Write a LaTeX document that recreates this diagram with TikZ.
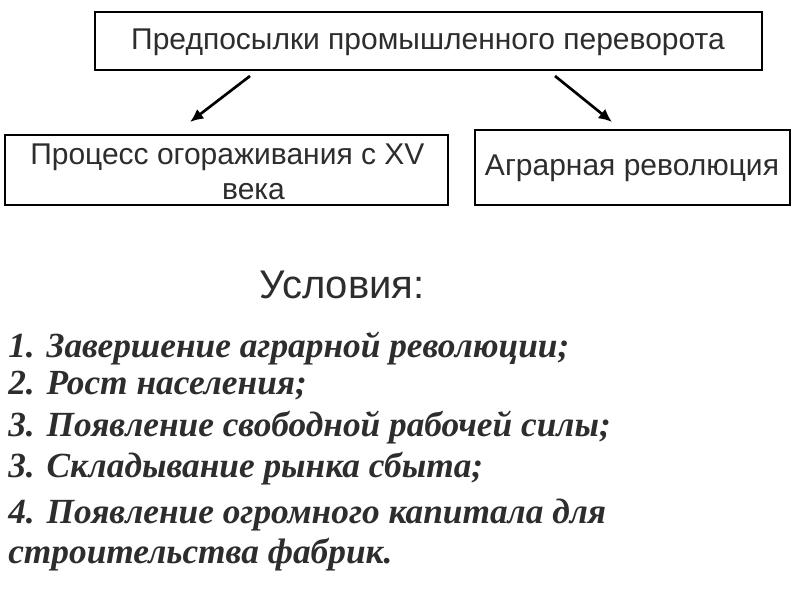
\documentclass[tikz,border=0pt]{standalone}
\usepackage{fontspec}
\setmainfont{Liberation Sans}
\newfontfamily\listfont{Liberation Serif}
\usetikzlibrary{arrows.meta}
\definecolor{txtgray}{RGB}{45,45,45}
\tikzset{
  frame/.style={draw=black, line width=1.2pt, fill=white},
  boxtext/.style={font=\fontsize{22.5}{26}\selectfont, text=txtgray},
  point/.style={font=\listfont\bfseries\itshape\fontsize{26.5}{30}\selectfont, text=txtgray, anchor=west, inner sep=0pt},
  link/.style={-{Latex[length=10pt,width=9pt]}, line width=2pt}
}
\begin{document}
\begin{tikzpicture}[x=0.75pt,y=-0.75pt]
  \useasboundingbox (0,0) rectangle (800,600);
  % boxes
  \draw[frame] (95,12) rectangle (762,70);
  \node[boxtext] (top) at (428,42) {Предпосылки промышленного переворота};
  \draw[frame] (5,135) rectangle (448,205);
  \node[boxtext, anchor=north west, align=left, inner sep=0pt] (left) at (30,144)
    {Процесс огораживания с XV\\\hspace*{191pt}\llap{века}};
  \draw[frame] (475,130) rectangle (790,205);
  \node[boxtext] (right) at (632,168) {Аграрная революция};
  % arrows
  \coordinate (a1) at (250,76);
  \coordinate (b1) at (190,122);
  \coordinate (a2) at (555,76);
  \coordinate (b2) at (612,122);
  \draw[link] (a1) -- (b1);
  \draw[link] (a2) -- (b2);
  % conditions
  \node[font=\fontsize{30}{34}\selectfont, text=txtgray] (cond) at (342,285) {Условия:};
  \node[point] (p1) at (8,349) {1. Завершение аграрной революции;};
  \node[point] (p2) at (8,386) {2. Рост населения;};
  \node[point] (p3) at (8,428) {3. Появление свободной рабочей силы;};
  \node[point] (p4) at (8,469) {3. Складывание рынка сбыта;};
  \node[point] (p5) at (8,515) {4. Появление огромного капитала для};
  \node[point] (p6) at (8,555) {строительства фабрик.};
\end{tikzpicture}
\end{document}
